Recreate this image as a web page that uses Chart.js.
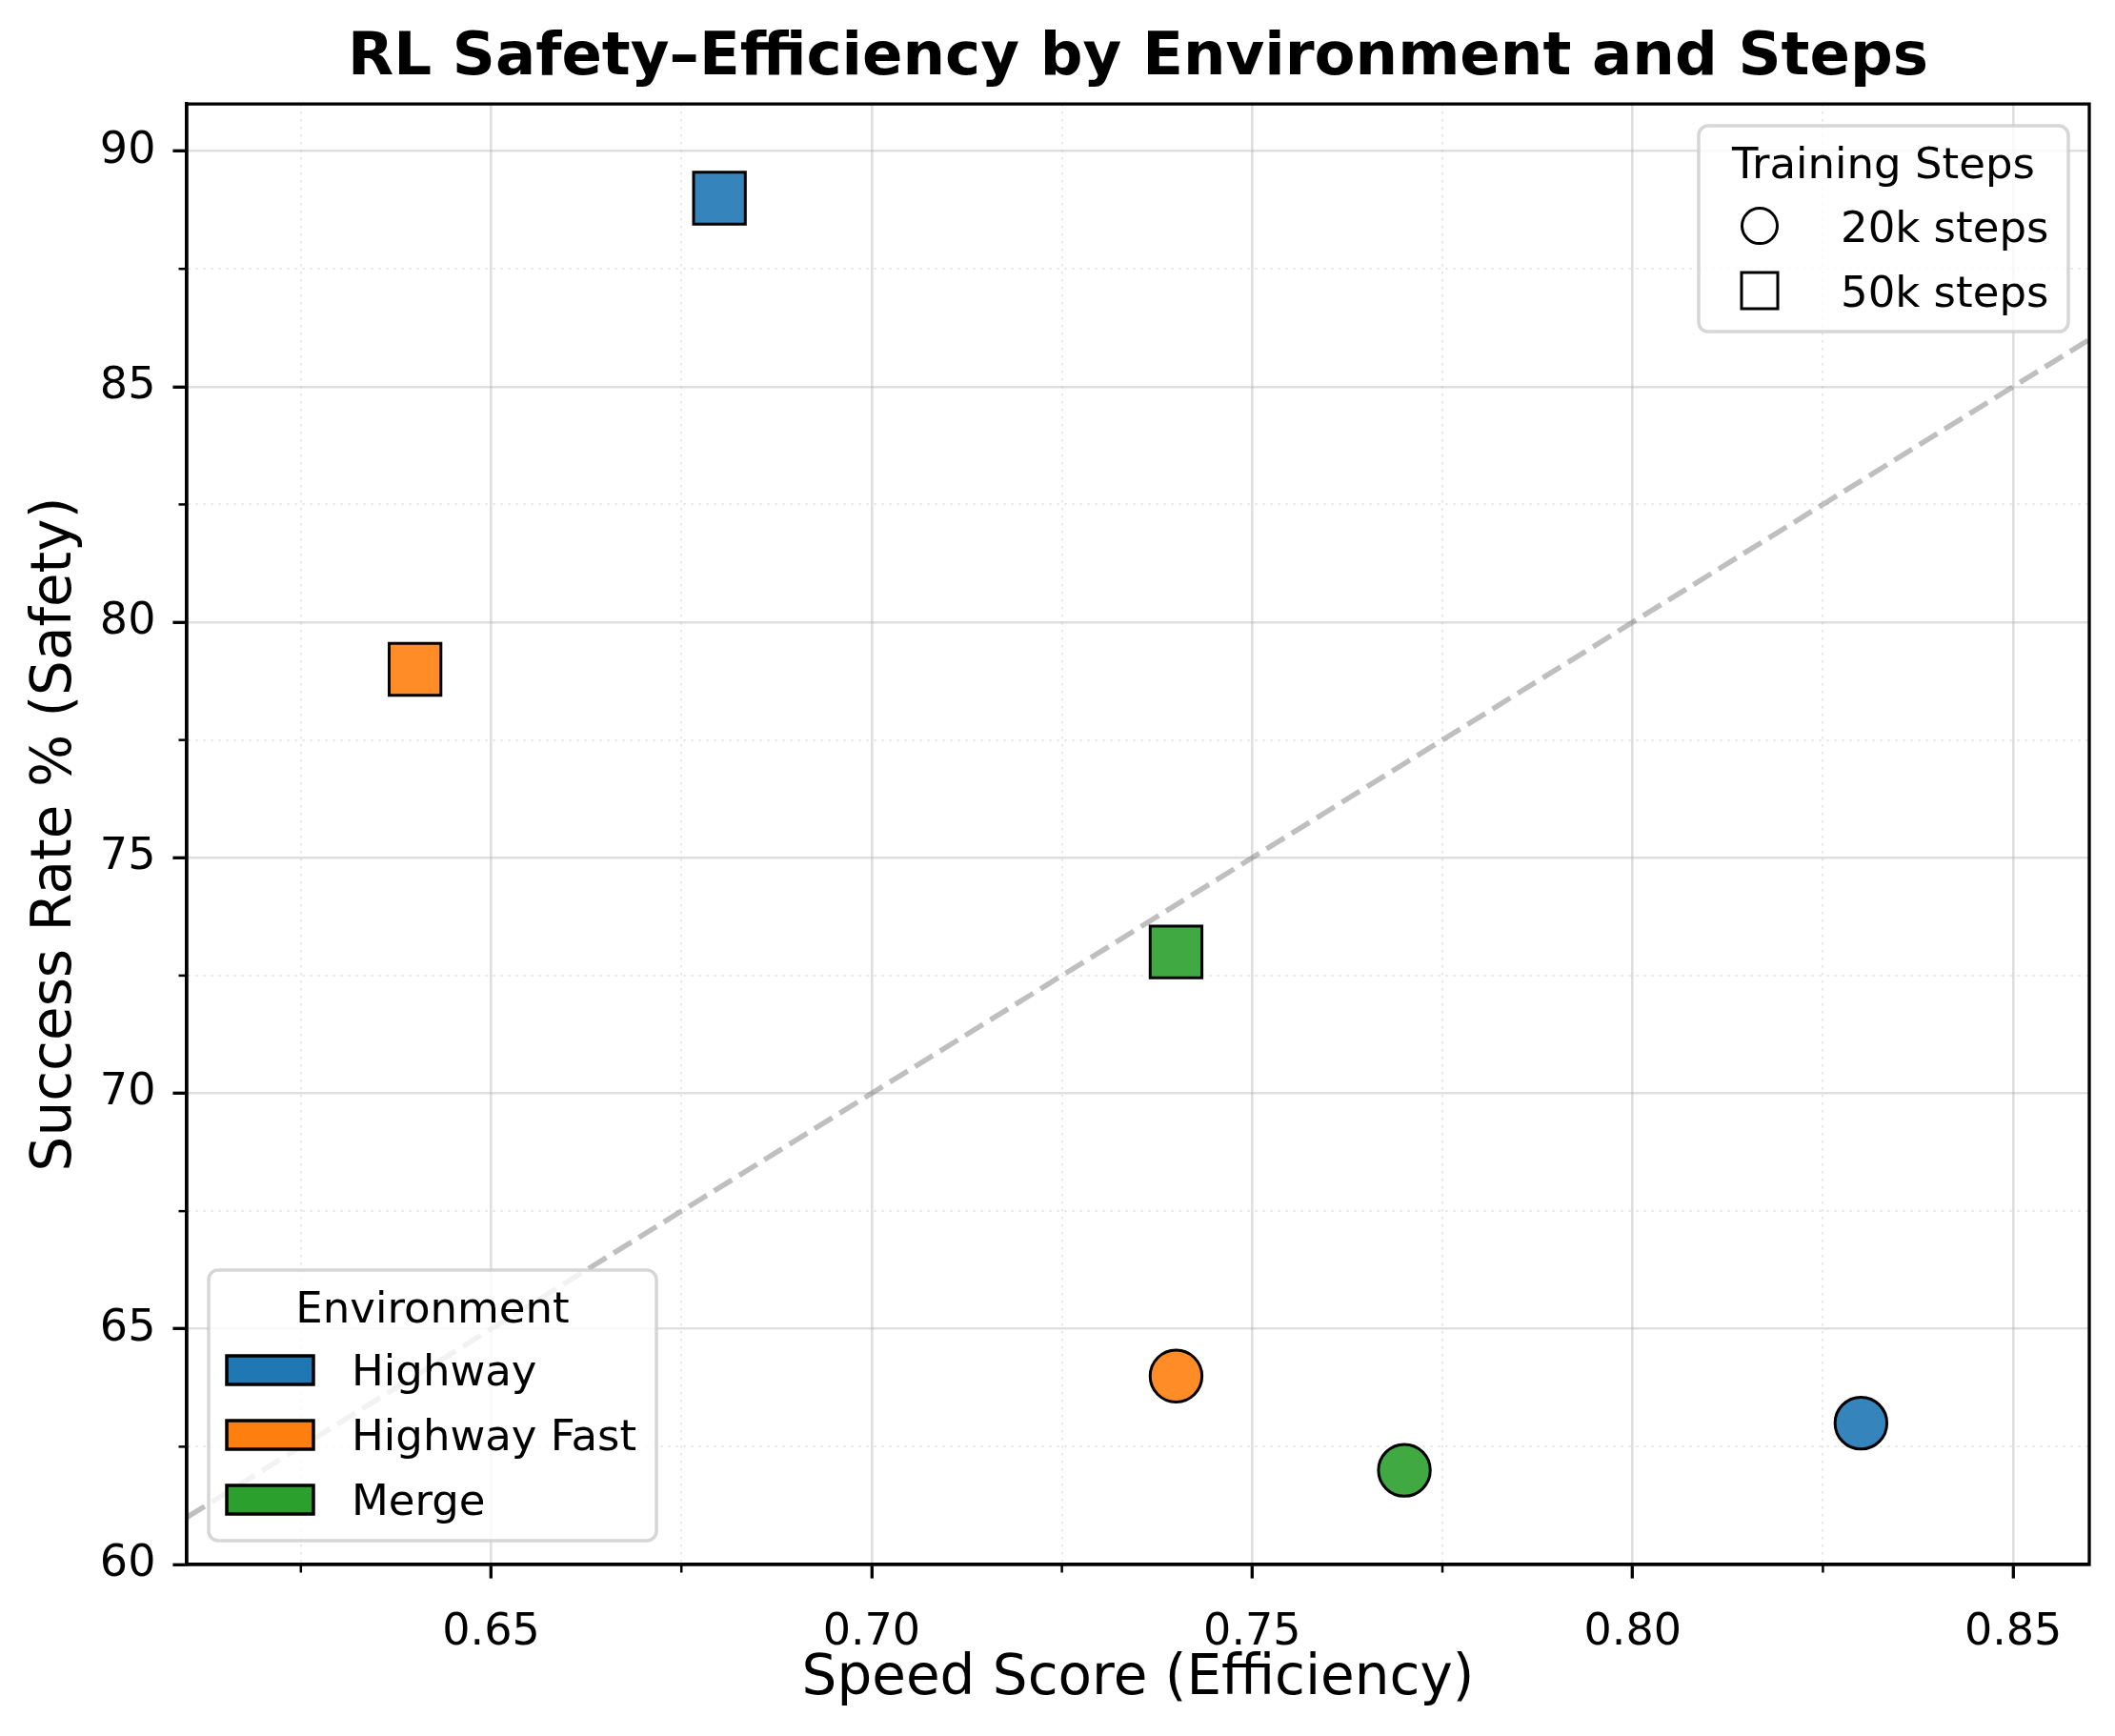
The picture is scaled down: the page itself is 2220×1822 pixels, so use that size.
<!DOCTYPE html>
<html>
<head>
<meta charset="utf-8">
<script src="https://cdn.jsdelivr.net/npm/chart.js@4.4.0/dist/chart.umd.min.js"></script>
<style>
  html, body { margin: 0; padding: 0; background: #ffffff; overflow: hidden; }
  #wrap { width: 2220px; height: 1822px; }
  canvas { display: block; }
</style>
</head>
<body>
<div id="wrap"><canvas id="chart" width="2220" height="1822" style="width:2220px;height:1822px"></canvas></div>
<script>
// ---------------- data ----------------
const environments = ['Highway', 'Highway Fast', 'Merge'];
const stepGroups = ['20k steps', '50k steps'];
const speed20k = [0.83, 0.74, 0.77];
const success20k = [63, 64, 62];
const speed50k = [0.68, 0.64, 0.74];
const success50k = [89, 79, 73];
const refLineX = [0.61, 0.86];
const refLineY = [61, 86];
const xRange = [0.61, 0.86];
const yRange = [60, 91];
const xMajorTicks = [0.65, 0.70, 0.75, 0.80, 0.85];
const xTickLabels = ['0.65', '0.70', '0.75', '0.80', '0.85'];
const xMinorTicks = [0.625, 0.675, 0.725, 0.775, 0.825];
const yMajorTicks = [60, 65, 70, 75, 80, 85, 90];
const yTickLabels = ['60', '65', '70', '75', '80', '85', '90'];
const yMinorTicks = [62.5, 67.5, 72.5, 77.5, 82.5, 87.5];
const chartTitle = 'RL Safety\u2013Efficiency by Environment and Steps';
const xTitle = 'Speed Score (Efficiency)';
const yTitle = 'Success Rate % (Safety)';
const envLegendTitle = 'Environment';
const stepLegendTitle = 'Training Steps';

// ---------------- styles ----------------
const FONT = 'DejaVu Sans';
const envColors = ['#1f77b4', '#ff7f0e', '#2ca02c'];
const envFills = ['rgba(31,119,180,0.9)', 'rgba(255,127,14,0.9)', 'rgba(44,160,44,0.9)'];
const majorGridColor = 'rgba(176,176,176,0.4)';
const minorGridColor = 'rgba(176,176,176,0.3)';

Chart.defaults.font.family = FONT;
Chart.defaults.color = '#000';

const near = (arr, v) => arr.findIndex(m => Math.abs(m - v) < 1e-9);
const isMinorCtx = (minorArr, ctx) => !!(ctx && ctx.tick && near(minorArr, ctx.tick.value) >= 0);

// ---------------- datasets ----------------
const datasets = [];
datasets.push({
  label: 'parity',
  data: refLineX.map((x, i) => ({ x: x, y: refLineY[i] })),
  showLine: true,
  borderColor: 'rgba(128,128,128,0.5)',
  borderWidth: 5.5,
  borderDash: [22, 9],
  pointRadius: 0,
  fill: false,
  order: 10
});
environments.forEach((env, i) => {
  datasets.push({
    label: env + ' ' + stepGroups[0],
    data: [{ x: speed20k[i], y: success20k[i] }],
    pointStyle: 'circle',
    pointRadius: 27.2,
    backgroundColor: envFills[i],
    borderColor: '#000',
    borderWidth: 3,
    order: 1
  });
  datasets.push({
    label: env + ' ' + stepGroups[1],
    data: [{ x: speed50k[i], y: success50k[i] }],
    pointStyle: 'rect',
    pointRadius: 38.4,
    backgroundColor: envFills[i],
    borderColor: '#000',
    borderWidth: 3,
    order: 1
  });
});

// ---------------- overlay plugin: spines, minor ticks, legends ----------------
function roundRect(ctx, x, y, w, h, r) {
  ctx.beginPath();
  ctx.moveTo(x + r, y);
  ctx.lineTo(x + w - r, y);
  ctx.arcTo(x + w, y, x + w, y + r, r);
  ctx.lineTo(x + w, y + h - r);
  ctx.arcTo(x + w, y + h, x + w - r, y + h, r);
  ctx.lineTo(x + r, y + h);
  ctx.arcTo(x, y + h, x, y + h - r, r);
  ctx.lineTo(x, y + r);
  ctx.arcTo(x, y, x + r, y, r);
  ctx.closePath();
}
function legendFrame(ctx, x, y, w, h) {
  roundRect(ctx, x, y, w, h, 10);
  ctx.fillStyle = 'rgba(255,255,255,0.8)';
  ctx.fill();
  ctx.lineWidth = 3.5;
  ctx.strokeStyle = 'rgba(204,204,204,0.8)';
  ctx.stroke();
}

const overlay = {
  id: 'overlay',
  afterDraw(chart) {
    const ctx = chart.ctx;
    const ca = chart.chartArea;
    const xs = chart.scales.x, ys = chart.scales.y;
    ctx.save();
    // spines (full box)
    ctx.strokeStyle = '#000';
    ctx.lineWidth = 3.3;
    ctx.setLineDash([]);
    ctx.strokeRect(ca.left, ca.top, ca.right - ca.left, ca.bottom - ca.top);
    // minor ticks
    ctx.lineWidth = 2.5;
    xMinorTicks.forEach(v => {
      const px = xs.getPixelForValue(v);
      ctx.beginPath(); ctx.moveTo(px, ca.bottom); ctx.lineTo(px, ca.bottom + 8.5); ctx.stroke();
    });
    yMinorTicks.forEach(v => {
      const py = ys.getPixelForValue(v);
      ctx.beginPath(); ctx.moveTo(ca.left, py); ctx.lineTo(ca.left - 8.5, py); ctx.stroke();
    });

    ctx.font = '45px "' + FONT + '"';
    ctx.textBaseline = 'alphabetic';

    // Training Steps legend (upper right)
    const tw = 388, th = 216;
    const tx = ca.right - 22 - tw, ty = ca.top + 23;
    legendFrame(ctx, tx, ty, tw, th);
    ctx.fillStyle = '#000';
    ctx.textAlign = 'center';
    ctx.fillText(stepLegendTitle, tx + tw / 2, ty + 55);
    ctx.textAlign = 'left';
    stepGroups.forEach((lab, k) => {
      const cy = ty + 105 + 68 * k;
      const cx = tx + 64;
      ctx.lineWidth = 3;
      ctx.strokeStyle = '#000';
      ctx.fillStyle = '#fff';
      ctx.beginPath();
      if (k === 0) ctx.arc(cx, cy, 18.5, 0, Math.PI * 2);
      else ctx.rect(cx - 19, cy - 19, 38, 38);
      ctx.fill(); ctx.stroke();
      ctx.fillStyle = '#000';
      ctx.fillText(lab, tx + 149, cy + 16.4);
    });

    // Environment legend (lower left)
    const ew = 470, eh = 284;
    const ex = ca.left + 23, ey = ca.bottom - 25 - eh;
    legendFrame(ctx, ex, ey, ew, eh);
    ctx.fillStyle = '#000';
    ctx.textAlign = 'center';
    ctx.fillText(envLegendTitle, ex + ew / 2, ey + 55);
    ctx.textAlign = 'left';
    environments.forEach((lab, k) => {
      const cy = ey + 105 + 68 * k;
      ctx.fillStyle = envColors[k];
      ctx.fillRect(ex + 19, cy - 15, 91, 30);
      ctx.lineWidth = 3.5;
      ctx.strokeStyle = '#000';
      ctx.strokeRect(ex + 19, cy - 15, 91, 30);
      ctx.fillStyle = '#000';
      ctx.fillText(lab, ex + 150, cy + 16.4);
    });
    ctx.restore();
  }
};

// ---------------- chart ----------------
function gridConf(minorArr) {
  return {
    display: true,
    drawOnChartArea: true,
    drawTicks: true,
    tickLength: 14.6,
    tickWidth: 3.3,
    tickColor: ctx => isMinorCtx(minorArr, ctx) ? 'rgba(0,0,0,0)' : '#000',
    color: ctx => isMinorCtx(minorArr, ctx) ? minorGridColor : majorGridColor,
    lineWidth: ctx => isMinorCtx(minorArr, ctx) ? 2 : 2.6
  };
}
function zeroPad(s) { s.paddingLeft = 0; s.paddingRight = 0; s.paddingTop = 0; s.paddingBottom = 0; }

new Chart(document.getElementById('chart'), {
  type: 'scatter',
  data: { datasets: datasets },
  plugins: [overlay],
  options: {
    responsive: false,
    devicePixelRatio: 1,
    animation: false,
    events: [],
    layout: { autoPadding: false, padding: { left: 0, right: 27, top: 0, bottom: 0 } },
    plugins: {
      legend: { display: false },
      tooltip: { enabled: false },
      title: {
        display: true,
        text: chartTitle,
        fullSize: false,
        color: '#000',
        font: { family: FONT, size: 62.6, weight: 'bold' },
        padding: { top: 24, bottom: 10 }
      }
    },
    scales: {
      x: {
        type: 'linear',
        min: xRange[0],
        max: xRange[1],
        afterBuildTicks: s => {
          s.ticks = xMajorTicks.concat(xMinorTicks).sort((a, b) => a - b).map(v => ({ value: v }));
        },
        ticks: {
          autoSkip: false,
          maxRotation: 0,
          minRotation: 0,
          padding: 30,
          color: '#000',
          font: { family: FONT, size: 46 },
          callback: v => { const i = near(xMajorTicks, v); return i >= 0 ? xTickLabels[i] : ''; }
        },
        grid: gridConf(xMinorTicks),
        border: {
          display: true, color: '#000', width: 3.3,
          dash: ctx => isMinorCtx(xMinorTicks, ctx) ? [2.5, 5.5] : []
        },
        title: {
          display: true, text: xTitle, color: '#000',
          font: { family: FONT, size: 58 },
          padding: { top: 0, bottom: 24 }
        },
        afterFit: s => { s.height = 180; zeroPad(s); }
      },
      y: {
        type: 'linear',
        min: yRange[0],
        max: yRange[1],
        afterBuildTicks: s => {
          s.ticks = yMajorTicks.concat(yMinorTicks).sort((a, b) => a - b).map(v => ({ value: v }));
        },
        ticks: {
          autoSkip: false,
          padding: 18,
          color: '#000',
          font: { family: FONT, size: 46 },
          callback: v => { const i = near(yMajorTicks, v); return i >= 0 ? yTickLabels[i] : ''; }
        },
        grid: gridConf(yMinorTicks),
        border: {
          display: true, color: '#000', width: 3.3,
          dash: ctx => isMinorCtx(yMinorTicks, ctx) ? [2.5, 5.5] : []
        },
        title: {
          display: true, text: yTitle, color: '#000',
          font: { family: FONT, size: 58 },
          padding: { top: 24, bottom: 0 }
        },
        afterFit: s => { s.width = 196; zeroPad(s); }
      }
    }
  }
});
</script>
</body>
</html>
